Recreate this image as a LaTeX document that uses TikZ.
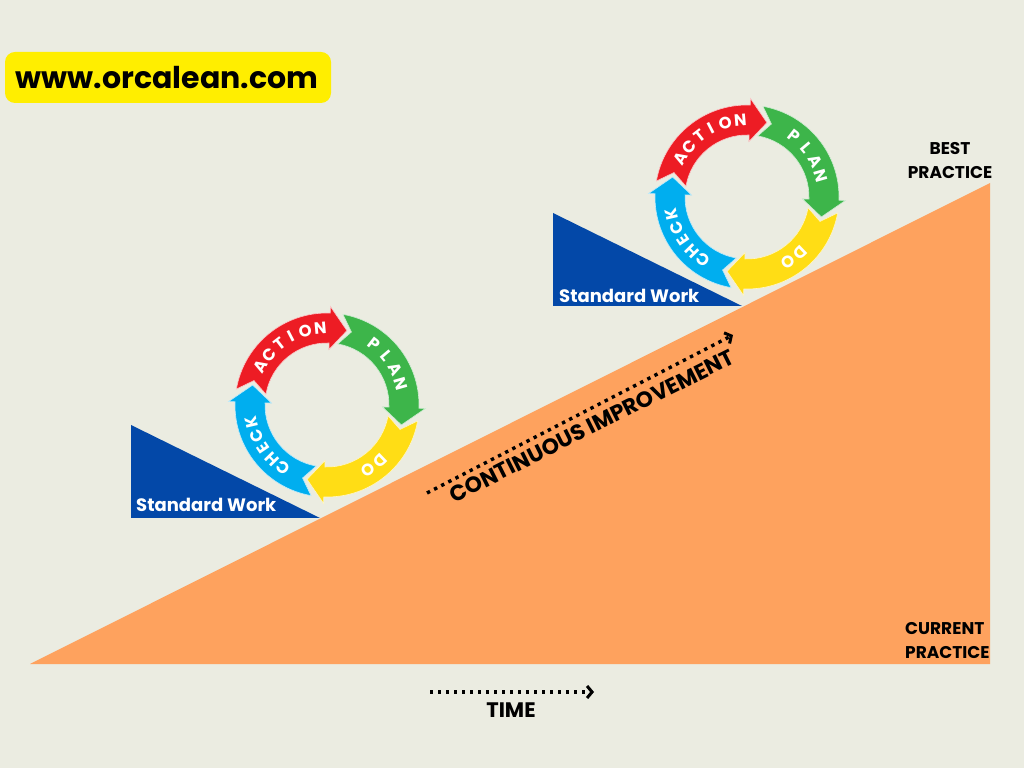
\documentclass[tikz,border=0pt]{standalone}
\usepackage{fontspec}
\setmainfont{Poppins}
\usetikzlibrary{arrows.meta}
\definecolor{bg}{HTML}{EBECE1}
\definecolor{orng}{HTML}{FEA25E}
\definecolor{stdblue}{HTML}{0348A8}
\definecolor{pred}{HTML}{ED1C24}
\definecolor{pgreen}{HTML}{3DB54A}
\definecolor{pyellow}{HTML}{FFDD15}
\definecolor{pcyan}{HTML}{00AEEF}
\definecolor{webyellow}{HTML}{FFEE00}
\tikzset{
  letter/.style={text=white, font=\fontsize{16.5}{16.5}\selectfont\bfseries, inner sep=0pt},
  lbl/.style={text=black, font=\fontsize{17}{24}\selectfont\bfseries, inner sep=0pt},
  stdtxt/.style={text=white, font=\fontsize{18}{20}\selectfont\bfseries, inner sep=0pt, anchor=west},
  dotarrow/.style={line width=3.4pt, dash pattern=on 3.4pt off 4.6pt, -{Straight Barb[length=5pt,width=12pt,line width=3pt]}},
  arrowband/.style={draw=white!75!#1, line width=0.6pt, fill=#1}
}
% #1 tail angle, #2 colour
\newcommand\pdcaarrow[2]{%
  \filldraw[arrowband=#2] ({#1}:92) arc[start angle={#1}, end angle={#1-82}, radius=92]
    -- ({#1-82}:98.5) -- ({#1-95}:77) -- ({#1-82}:55.5) -- ({#1-82}:62)
    arc[start angle={#1-82}, end angle={#1}, radius=62] -- ({#1-8.5}:77) -- cycle;}
% #1 name, #2 angle, #3 letter
\newcommand\pdcaletter[3]{\node[letter, rotate={#2-90}] (#1) at ({#2}:77) {#3};}
\newcommand\pdcacycle[1]{%
  \pdcaarrow{170}{pred}
  \pdcaarrow{80}{pgreen}
  \pdcaarrow{-10}{pyellow}
  \pdcaarrow{-100}{pcyan}
  \pdcaletter{#1a1}{150}{A}\pdcaletter{#1a2}{139}{C}\pdcaletter{#1a3}{128}{T}%
  \pdcaletter{#1a4}{117.5}{I}\pdcaletter{#1a5}{106.5}{O}\pdcaletter{#1a6}{95}{N}%
  \pdcaletter{#1p1}{52}{P}\pdcaletter{#1p2}{40}{L}\pdcaletter{#1p3}{28}{A}\pdcaletter{#1p4}{16}{N}%
  \pdcaletter{#1d1}{-46}{D}\pdcaletter{#1d2}{-58}{O}%
  \pdcaletter{#1c1}{-125}{C}\pdcaletter{#1c2}{-135.5}{H}\pdcaletter{#1c3}{-146}{E}%
  \pdcaletter{#1c4}{-156.5}{C}\pdcaletter{#1c5}{-167}{K}%
}
\begin{document}
\begin{tikzpicture}[x=1pt, y=1pt]
\fill[bg] (0,0) rectangle (1024,768);
\useasboundingbox (0,0) rectangle (1024,768);

% website label
\fill[webyellow, rounded corners=10pt] (5,665) rectangle (331,716);
\node[text=black, font=\fontsize{30}{32}\selectfont\bfseries, inner sep=0pt] (web) at (167,690) {www.orcalean.com};

% slope
\fill[orng] (30,104) -- (990,104) -- (990,585) -- cycle;

% standard work wedges
\fill[stdblue] (131,343) -- (131,250) -- (320,250) -- cycle;
\node[stdtxt] (sw1) at (136,263) {Standard Work};
\fill[stdblue] (553,555) -- (553,462) -- (742,462) -- cycle;
\node[stdtxt] (sw2) at (559,472) {Standard Work};

% PDCA cycles
\begin{scope}[shift={(327,363)}]
  \pdcacycle{x}
\end{scope}
\begin{scope}[shift={(747,571)}]
  \pdcacycle{y}
\end{scope}

% continuous improvement
\coordinate (ciA) at (427,275);
\coordinate (ciB) at (733,433);
\draw[dotarrow] (ciA) -- (ciB);
\node[text=black, font=\fontsize{22}{22}\selectfont\bfseries, inner sep=0pt, rotate=26.6] (ci) at (592,342) {CONTINUOUS IMPROVEMENT};

% time
\coordinate (tA) at (430,76);
\coordinate (tB) at (594,76);
\draw[dotarrow] (tA) -- (tB);
\node[lbl, font=\fontsize{21}{21}\selectfont\bfseries] (time) at (511,58) {TIME};

% labels
\node[lbl, align=center] (best) at (950,607.5) {BEST\\PRACTICE};
\node[lbl, align=left, anchor=west] (cur) at (905,127) {CURRENT\\PRACTICE};
\end{tikzpicture}
\end{document}
